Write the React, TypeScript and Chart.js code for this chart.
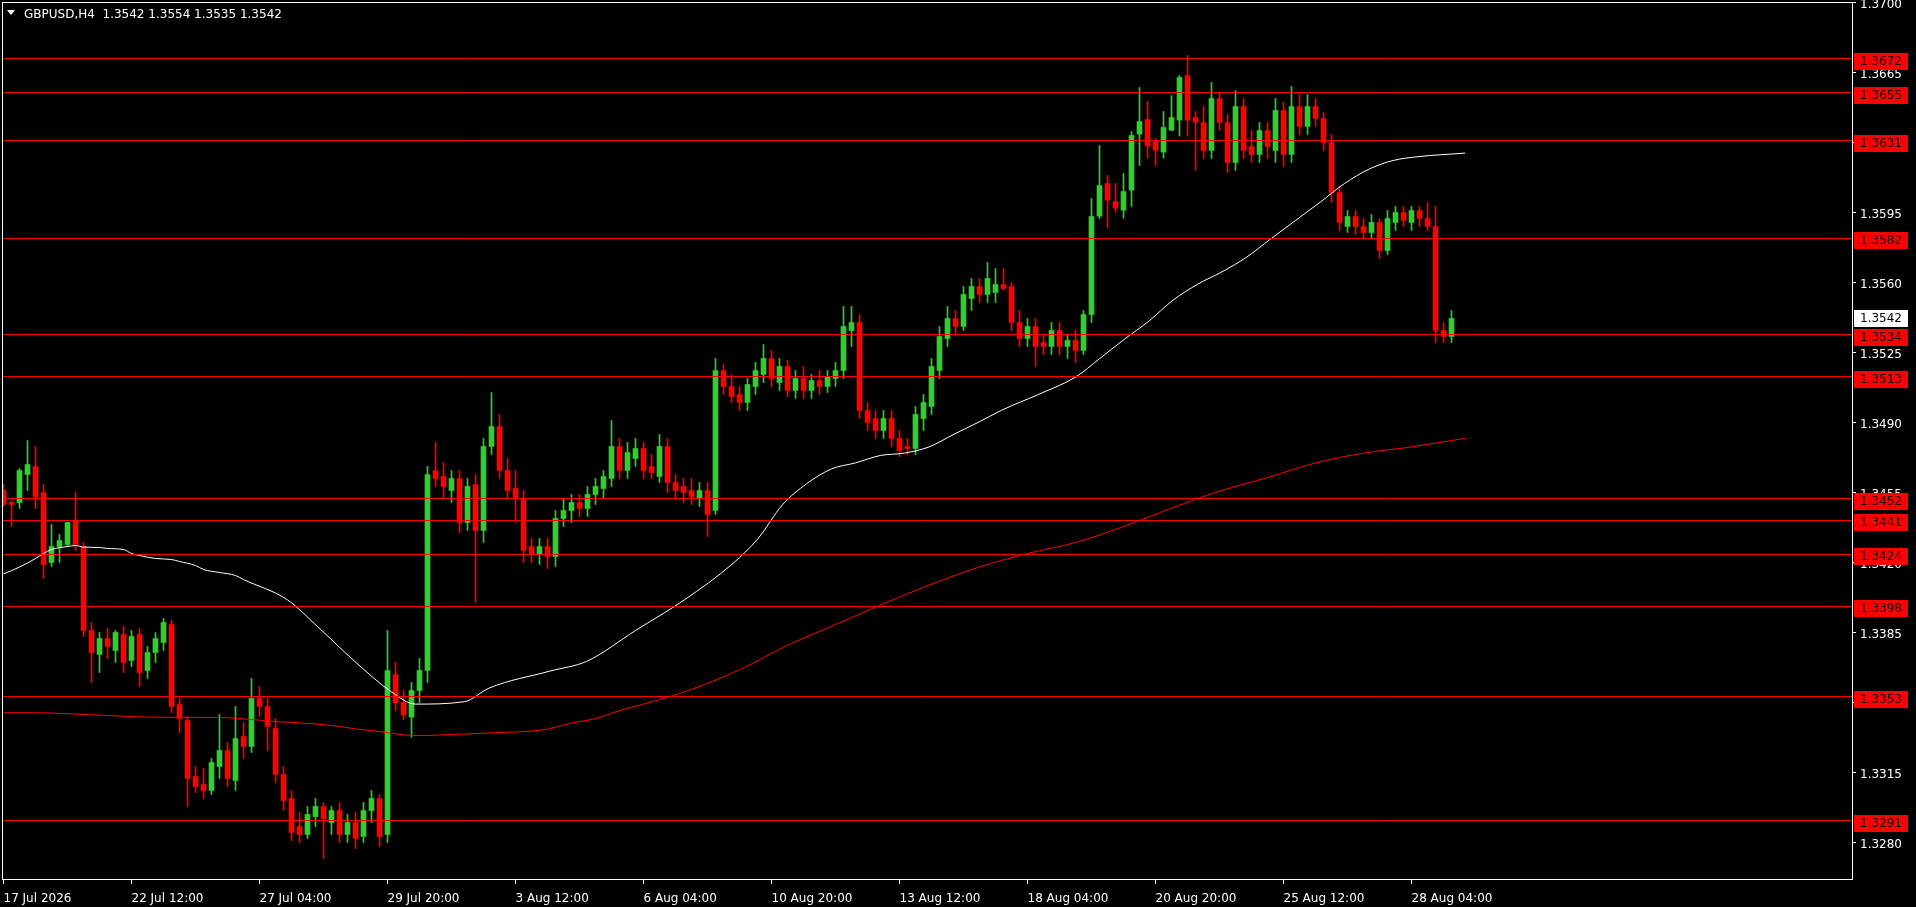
import React, { useEffect, useRef } from "react";
import { Chart, registerables } from "chart.js";
Chart.register(...registerables);

const opens = [
  1.3456, 1.345, 1.345, 1.3464, 1.3468, 1.3455, 1.342, 1.3428, 1.3429, 1.3441,
  1.3428, 1.3386, 1.3374, 1.3382, 1.3376, 1.3384, 1.3371, 1.3384, 1.3366, 1.3375,
  1.338, 1.3389, 1.3349, 1.3341, 1.3313, 1.3309, 1.3306, 1.3318, 1.3326, 1.3311,
  1.3333, 1.3328, 1.3352, 1.3348, 1.3337, 1.3314, 1.3302, 1.3288, 1.3284, 1.3293,
  1.3298, 1.329, 1.3296, 1.3284, 1.329, 1.3283, 1.3296, 1.3302, 1.3284, 1.3364,
  1.335, 1.33427, 1.3356, 1.3366, 1.3466, 1.3463, 1.3456, 1.3462, 1.344, 1.3459,
  1.3436, 1.3478, 1.3488, 1.3466, 1.3457, 1.3452, 1.3428, 1.3424, 1.3428, 1.3423,
  1.3442, 1.3446, 1.345, 1.3447, 1.3454, 1.3457, 1.3462, 1.3478, 1.3466, 1.3472,
  1.3477, 1.3468, 1.3463, 1.3478, 1.346, 1.3458, 1.3456, 1.3452, 1.3456, 1.3446,
  1.3516, 1.3508, 1.3504, 1.35, 1.3508, 1.3514, 1.3522, 1.351, 1.3518, 1.3506,
  1.3512, 1.3506, 1.3511, 1.3508, 1.3512, 1.3516, 1.3536, 1.354, 1.3496, 1.3492,
  1.3486, 1.3492, 1.3482, 1.3478, 1.3477, 1.3492, 1.3498, 1.3516, 1.3532, 1.3542,
  1.3538, 1.3552, 1.3558, 1.3554, 1.3555, 1.3559, 1.3558, 1.354, 1.3532, 1.3538,
  1.353, 1.3528, 1.3536, 1.3528, 1.3531, 1.3526, 1.3544, 1.35932, 1.36095, 1.36005,
  1.35962, 1.36062, 1.36342, 1.36415, 1.36305, 1.36252, 1.36362, 1.36412, 1.36635, 1.36425,
  1.364, 1.3626, 1.3652, 1.364, 1.362, 1.3648, 1.3628, 1.3624, 1.3636, 1.3626,
  1.3646, 1.3624, 1.3648, 1.3638, 1.3648, 1.3642, 1.363, 1.3605, 1.3588, 1.3593,
  1.3588, 1.3585, 1.359, 1.3576, 1.359, 1.3595, 1.359, 1.3596, 1.3592, 1.3588,
  1.3536, 1.3533,
];
const highs = [
  1.3459, 1.3451, 1.3467, 1.3481, 1.3478, 1.3459, 1.3439, 1.3434, 1.344, 1.3455,
  1.343, 1.339, 1.3385, 1.3387, 1.3386, 1.3388, 1.3386, 1.3387, 1.3378, 1.3385,
  1.3392, 1.3391, 1.3352, 1.3343, 1.3318, 1.3317, 1.3322, 1.3344, 1.333, 1.3348,
  1.334, 1.3362, 1.3358, 1.3352, 1.3342, 1.3318, 1.3306, 1.3295, 1.3298, 1.3302,
  1.33, 1.3298, 1.33, 1.3294, 1.3295, 1.33, 1.3306, 1.3304, 1.3386, 1.337,
  1.3356, 1.336, 1.3372, 1.3468, 1.348, 1.347, 1.3466, 1.3466, 1.3462, 1.3464,
  1.3482, 1.3505, 1.3494, 1.3472, 1.3466, 1.3456, 1.3432, 1.3432, 1.3432, 1.3446,
  1.3452, 1.3454, 1.3454, 1.3458, 1.3462, 1.3466, 1.3491, 1.3482, 1.348, 1.3482,
  1.348, 1.3474, 1.3484, 1.3482, 1.3464, 1.3462, 1.3462, 1.346, 1.346, 1.3522,
  1.3519, 1.3514, 1.3508, 1.3512, 1.352, 1.3529, 1.3526, 1.3522, 1.3521, 1.3516,
  1.3518, 1.3514, 1.3516, 1.3516, 1.352, 1.3548, 1.3548, 1.3544, 1.35, 1.3496,
  1.3496, 1.3496, 1.3486, 1.3482, 1.3498, 1.3504, 1.3522, 1.3538, 1.3548, 1.3546,
  1.3558, 1.3562, 1.3562, 1.357, 1.3567, 1.3567, 1.356, 1.3546, 1.3542, 1.3542,
  1.3534, 1.354, 1.354, 1.3534, 1.3536, 1.3546, 1.3602, 1.36285, 1.36135, 1.36095,
  1.36145, 1.36355, 1.36575, 1.36505, 1.3632, 1.36455, 1.36535, 1.36635, 1.36735, 1.36455,
  1.3648, 1.366, 1.3655, 1.3644, 1.3656, 1.3652, 1.3636, 1.364, 1.364, 1.3652,
  1.365, 1.3658, 1.3654, 1.3654, 1.3652, 1.3645, 1.3634, 1.3608, 1.3596, 1.3596,
  1.3592, 1.3594, 1.3592, 1.3596, 1.3598, 1.3598, 1.3598, 1.3598, 1.36, 1.3598,
  1.354, 1.3546,
];
const lows = [
  1.3448, 1.3438, 1.3447, 1.3456, 1.3447, 1.3412, 1.3418, 1.342, 1.3428, 1.3426,
  1.3383, 1.336, 1.3365, 1.3372, 1.337, 1.3365, 1.3368, 1.3358, 1.3362, 1.337,
  1.3376, 1.3345, 1.3335, 1.3298, 1.3305, 1.3302, 1.3304, 1.3312, 1.3308, 1.3306,
  1.3322, 1.3325, 1.3343, 1.3326, 1.331, 1.3296, 1.3281, 1.328, 1.3282, 1.3288,
  1.3272, 1.3284, 1.328, 1.328, 1.3277, 1.328, 1.329, 1.3278, 1.328, 1.3346,
  1.33415, 1.33327, 1.335, 1.336, 1.3458, 1.3452, 1.345, 1.3435, 1.3436, 1.34,
  1.343, 1.3474, 1.3462, 1.3452, 1.344, 1.342, 1.342, 1.3419, 1.3417, 1.3418,
  1.3438, 1.344, 1.3443, 1.3443, 1.3449, 1.3452, 1.3458, 1.3462, 1.3462, 1.3468,
  1.3462, 1.3462, 1.346, 1.3455, 1.3452, 1.345, 1.3449, 1.3448, 1.3433, 1.3444,
  1.3504, 1.35, 1.3496, 1.3496, 1.3504, 1.351, 1.3508, 1.3506, 1.3503, 1.3502,
  1.3502, 1.3502, 1.3504, 1.3505, 1.3508, 1.3512, 1.3528, 1.3492, 1.3486, 1.3482,
  1.3482, 1.3478, 1.3473, 1.3474, 1.3474, 1.3486, 1.3494, 1.3512, 1.3528, 1.3534,
  1.3536, 1.3546, 1.355, 1.355, 1.355, 1.3556, 1.3536, 1.3528, 1.3528, 1.3518,
  1.3524, 1.3524, 1.3524, 1.3522, 1.352, 1.3524, 1.354, 1.3592, 1.35875, 1.35952,
  1.35922, 1.3598, 1.36185, 1.36222, 1.36185, 1.36222, 1.3636, 1.36332, 1.36332, 1.36162,
  1.3622, 1.3622, 1.3636, 1.3615, 1.3616, 1.3622, 1.362, 1.362, 1.3622, 1.362,
  1.3618, 1.362, 1.3634, 1.3634, 1.3638, 1.3626, 1.36, 1.3586, 1.3585, 1.3584,
  1.3582, 1.3582, 1.3572, 1.3574, 1.3586, 1.3588, 1.3586, 1.3588, 1.3586, 1.353,
  1.353, 1.353,
];
const closes = [
  1.3449, 1.3449, 1.3466, 1.3469, 1.3453, 1.3419, 1.3428, 1.3431, 1.344, 1.3429,
  1.3386, 1.3375, 1.3382, 1.3378, 1.3385, 1.337, 1.3383, 1.3365, 1.3375, 1.3382,
  1.339, 1.3348, 1.3342, 1.3312, 1.3308, 1.3306, 1.332, 1.3326, 1.3312, 1.3332,
  1.3328, 1.3352, 1.3348, 1.3338, 1.3314, 1.3301, 1.3285, 1.3284, 1.3294, 1.3298,
  1.3292, 1.3296, 1.3284, 1.329, 1.3282, 1.3296, 1.3302, 1.3283, 1.3366, 1.335,
  1.33437, 1.3356, 1.3366, 1.3464, 1.3462, 1.3458, 1.3462, 1.344, 1.3458, 1.3436,
  1.3478, 1.3488, 1.3466, 1.3456, 1.3452, 1.3426, 1.3424, 1.3428, 1.3423, 1.3442,
  1.3446, 1.345, 1.3447, 1.3454, 1.3458, 1.3463, 1.3478, 1.3466, 1.3475, 1.3477,
  1.3466, 1.3465, 1.3478, 1.346, 1.3456, 1.3455, 1.3453, 1.3456, 1.3444, 1.3516,
  1.3508, 1.3503, 1.35, 1.3509, 1.3516, 1.3522, 1.3512, 1.3518, 1.3506, 1.3512,
  1.3506, 1.3511, 1.3508, 1.3513, 1.3516, 1.3538, 1.354, 1.3496, 1.349, 1.3486,
  1.3492, 1.3482, 1.3476, 1.3477, 1.3494, 1.35, 1.3518, 1.3533, 1.3542, 1.3538,
  1.3554, 1.3558, 1.3554, 1.3562, 1.3559, 1.3557, 1.354, 1.3532, 1.3538, 1.3528,
  1.3528, 1.3536, 1.3528, 1.3531, 1.3526, 1.3544, 1.3593, 1.36085, 1.36012, 1.35972,
  1.36055, 1.36335, 1.36405, 1.36282, 1.36262, 1.36375, 1.36425, 1.36625, 1.36412, 1.36402,
  1.3626, 1.3652, 1.364, 1.362, 1.3648, 1.3626, 1.3624, 1.3636, 1.3628, 1.3646,
  1.3624, 1.3648, 1.3638, 1.3648, 1.3642, 1.363, 1.3605, 1.359, 1.3593, 1.3588,
  1.3585, 1.359, 1.3576, 1.3592, 1.3595, 1.3591, 1.3596, 1.3592, 1.3588, 1.3536,
  1.3533, 1.3542,
];

// moving averages (bar position, price)
const whiteMaBars = [
  0, 2, 4, 5, 6, 8, 9, 10, 12, 13, 15, 16, 17, 19, 21, 22, 24, 25, 27, 29, 30,
  35.5, 39.3, 43.9, 48.5, 51.5, 57.6, 60.7, 68.3, 72.9, 79, 85.1, 91.2, 94.3, 97.4,
  100.4, 103.5, 106.5, 109.6, 112.6, 115.7, 118.7, 121.8, 124.8, 129.4, 134, 137,
  140.1, 143.2, 146.2, 149.3, 152.3, 155.4, 158.4, 161.5, 164.6, 167.6, 170.7,
  173.7, 176.8, 182.7,
];
const whiteMaValues = [
  1.34143, 1.34177, 1.3422, 1.34245, 1.34265, 1.3428, 1.34285, 1.34277, 1.34275,
  1.3427, 1.34265, 1.34245, 1.34235, 1.3422, 1.34215, 1.34205, 1.34185, 1.34165,
  1.3415, 1.34135, 1.34115, 1.34013, 1.33878, 1.33706, 1.33553, 1.33492, 1.33504,
  1.33572, 1.33657, 1.33706, 1.3386, 1.34013, 1.34196, 1.34319, 1.3449, 1.34594,
  1.34668, 1.34698, 1.34735, 1.34747, 1.34778, 1.34839, 1.349, 1.34962, 1.35041,
  1.35127, 1.35219, 1.35316, 1.35408, 1.35512, 1.35592, 1.35653, 1.35727, 1.35818,
  1.3591, 1.36002, 1.36094, 1.36167, 1.3621, 1.36229, 1.36247,
];
const redMaBars = [
  0, 4, 8, 13, 18, 27, 31, 34, 39, 42, 44, 47, 50, 52, 55, 58, 62, 66, 68, 69, 71,
  74, 77, 80, 86, 92, 98, 104, 110, 116, 122, 128, 134, 140, 146, 152, 158, 164,
  170, 176, 182.7,
];
const redMaValues = [
  1.33449, 1.33449, 1.33444, 1.33435, 1.33427, 1.33425, 1.33415, 1.33405, 1.33393,
  1.3338, 1.33368, 1.33355, 1.33338, 1.33335, 1.33338, 1.33343, 1.3335, 1.33357,
  1.33367, 1.33377, 1.33397, 1.3342, 1.3346, 1.33492, 1.33566, 1.33664, 1.33786,
  1.3389, 1.33994, 1.34092, 1.34178, 1.34245, 1.343, 1.3438, 1.34472, 1.34557,
  1.34625, 1.34698, 1.34747, 1.34778, 1.34821,
];

const levelValues = [
  1.3672, 1.3655, 1.3631, 1.3582, 1.3534, 1.3513, 1.3452, 1.3441, 1.3424, 1.3398,
  1.3353, 1.3291,
];
const lastPrice = 1.3542;

const yTickValues = [
  1.328, 1.3315, 1.335, 1.3385, 1.342, 1.3455, 1.349, 1.3525, 1.356, 1.3595, 1.363,
  1.3665, 1.37,
];
const xTickBars = [0, 16, 32, 48, 64, 80, 96, 112, 128, 144, 160, 176];
const xTickLabels = [
  "17 Jul 2026", "22 Jul 12:00", "27 Jul 04:00", "29 Jul 20:00", "3 Aug 12:00",
  "6 Aug 04:00", "10 Aug 20:00", "13 Aug 12:00", "18 Aug 04:00", "20 Aug 20:00",
  "25 Aug 12:00", "28 Aug 04:00",
];
const titleText = "GBPUSD,H4  1.3542 1.3554 1.3535 1.3542";

const BULL = "#2ecf2e";
const BEAR = "#ff0000";
const FONT = "'DejaVu Sans', sans-serif";
const X_MIN = -0.1875;
const X_MAX = 231.1875;
const Y_MIN = 1.326125;
const Y_MAX = 1.370025;

export default function App() {
  const ref = useRef<HTMLCanvasElement>(null);

  useEffect(() => {
    const canvas = ref.current;
    if (!canvas) return;
    const idx = opens.map((_, i) => i);
    const colors = idx.map((i) => (closes[i] >= opens[i] ? BULL : BEAR));

    const overlay = {
      id: "overlay",
      afterDraw(chart: any) {
        const { ctx, chartArea } = chart;
        const y = chart.scales.y;
        ctx.save();
        ctx.strokeStyle = "#ffffff";
        ctx.lineWidth = 1;
        ctx.strokeRect(
          chartArea.left + 0.5,
          chartArea.top + 0.5,
          chartArea.right - chartArea.left - 1,
          chartArea.bottom - chartArea.top - 1
        );
        ctx.font = `12px ${FONT}`;
        ctx.textBaseline = "middle";
        ctx.textAlign = "left";
        const bx = chartArea.right + 1;
        const bw = 54;
        levelValues.forEach((v) => {
          const py = Math.round(y.getPixelForValue(v));
          ctx.fillStyle = "#ff0000";
          ctx.fillRect(bx, py - 6, bw, 17);
          ctx.fillStyle = "#1a0000";
          ctx.fillText(v.toFixed(4), chartArea.right + 7, py + 3);
        });
        const pp = Math.round(y.getPixelForValue(lastPrice));
        ctx.fillStyle = "#ffffff";
        ctx.fillRect(bx, pp - 8, bw, 17);
        ctx.fillStyle = "#000000";
        ctx.fillText(lastPrice.toFixed(4), chartArea.right + 7, pp + 1);
        ctx.restore();
      },
    };

    const chart = new Chart(canvas, {
      type: "bar",
      data: {
        datasets: [
          ...levelValues.map((v) => ({
            type: "line" as const,
            data: [
              { x: X_MIN, y: v },
              { x: X_MAX, y: v },
            ],
            borderColor: "#ff0000",
            borderWidth: 1,
            pointRadius: 0,
            order: 1,
            clip: 0,
          })),
          {
            type: "line" as const,
            data: whiteMaBars.map((b, i) => ({ x: b, y: whiteMaValues[i] })),
            borderColor: "#ffffff",
            borderWidth: 1,
            pointRadius: 0,
            cubicInterpolationMode: "monotone" as const,
            order: 2,
          },
          {
            type: "line" as const,
            data: redMaBars.map((b, i) => ({ x: b, y: redMaValues[i] })),
            borderColor: "#ff0000",
            borderWidth: 1,
            pointRadius: 0,
            cubicInterpolationMode: "monotone" as const,
            order: 3,
          },
          {
            type: "bar" as const,
            data: idx.map((i) => ({ x: i, y: [opens[i], closes[i]] })),
            backgroundColor: colors,
            borderWidth: 0,
            barThickness: 5,
            grouped: false,
            minBarLength: 1,
            order: 4,
          },
          {
            type: "bar" as const,
            data: idx.map((i) => ({ x: i, y: [lows[i], highs[i]] })),
            backgroundColor: colors,
            borderWidth: 0,
            barThickness: 1,
            grouped: false,
            order: 5,
          },
        ] as any,
      },
      options: {
        animation: false,
        responsive: false,
        events: [],
        layout: { padding: { left: 2, top: 2, right: 0, bottom: 0 } },
        plugins: {
          legend: { display: false },
          tooltip: { enabled: false },
          title: { display: false },
        },
        scales: {
          x: {
            type: "linear",
            offset: false,
            min: X_MIN,
            max: X_MAX,
            position: "bottom",
            border: { display: false },
            grid: {
              display: true,
              offset: false,
              drawOnChartArea: false,
              drawTicks: true,
              tickLength: 4,
              color: "#ffffff",
            },
            ticks: {
              autoSkip: false,
              maxRotation: 0,
              align: "start",
              padding: 2,
              color: "#ffffff",
              font: { family: FONT, size: 12, lineHeight: 2.2 },
              callback: (v: any) => {
                const k = xTickBars.indexOf(Number(v));
                return k >= 0 ? xTickLabels[k] : "";
              },
            },
            afterBuildTicks: (s: any) => {
              s.ticks = xTickBars.map((v) => ({ value: v }));
            },
            afterFit: (s: any) => {
              s.height = 27;
              s.paddingLeft = 0;
              s.paddingRight = 0;
              s.paddingTop = 0;
              s.paddingBottom = 0;
            },
          },
          y: {
            type: "linear",
            position: "right",
            min: Y_MIN,
            max: Y_MAX,
            border: { display: false },
            grid: {
              display: true,
              drawOnChartArea: false,
              drawTicks: true,
              tickLength: 3,
              color: "#ffffff",
            },
            ticks: {
              autoSkip: false,
              padding: 4,
              labelOffset: 2,
              color: "#ffffff",
              font: { family: FONT, size: 12 },
              callback: (v: any) => Number(v).toFixed(4),
            },
            afterBuildTicks: (s: any) => {
              s.ticks = yTickValues.map((v) => ({ value: v }));
            },
            afterFit: (s: any) => {
              s.width = 63;
              s.paddingLeft = 0;
              s.paddingRight = 0;
              s.paddingTop = 0;
              s.paddingBottom = 0;
            },
          },
        },
      } as any,
      plugins: [overlay],
    });
    return () => chart.destroy();
  }, []);

  return (
    <div
      style={{
        position: "fixed",
        left: 0,
        top: 0,
        width: 1916,
        height: 907,
        background: "#000000",
        overflow: "hidden",
      }}
    >
      <canvas ref={ref} width={1916} height={907} style={{ display: "block" }} />
      <div
        style={{
          position: "absolute",
          left: 7,
          top: 10,
          width: 0,
          height: 0,
          borderLeft: "4.5px solid transparent",
          borderRight: "4.5px solid transparent",
          borderTop: "5px solid #ffffff",
        }}
      />
      <div
        style={{
          position: "absolute",
          left: 24,
          top: 8,
          color: "#ffffff",
          font: `12px ${FONT}`,
          lineHeight: "12px",
          whiteSpace: "pre",
        }}
      >
        {titleText}
      </div>
    </div>
  );
}
